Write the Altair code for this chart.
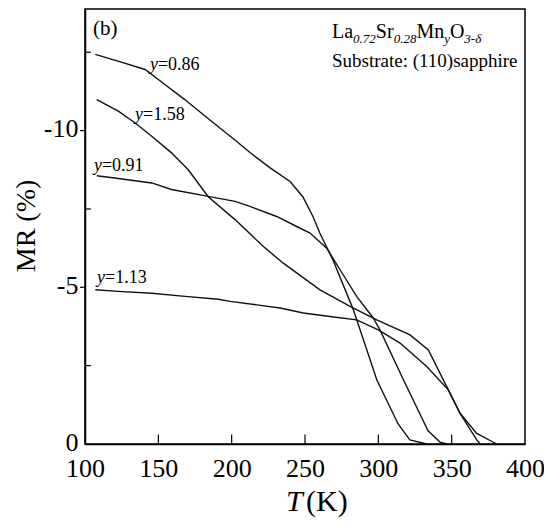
import altair as alt
import pandas as pd

# ---------------- data ----------------
series_names = ["y=0.86", "y=1.58", "y=0.91", "y=1.13"]

T_086 = [107, 123, 141, 150, 168, 182, 202, 212.5, 226, 240, 248.5, 255.5, 260, 265, 269, 283, 299, 305.5, 313.5, 321.5, 333]
MR_086 = [-12.43, -12.21, -11.95, -11.63, -10.99, -10.46, -9.71, -9.30, -8.82, -8.37, -7.89, -7.25, -6.74, -6.26, -5.88, -4.28, -2.04, -1.41, -0.64, -0.13, 0]

T_158 = [108, 122.7, 134, 145.5, 159, 170.4, 184, 202.3, 221.6, 235.2, 260.2, 280.7, 298.9, 321.6, 334.1, 342, 346.6, 355.7, 367.1, 369.5]
MR_158 = [-10.99, -10.62, -10.25, -9.82, -9.29, -8.75, -7.89, -7.16, -6.30, -5.77, -4.92, -4.39, -3.96, -3.48, -3.00, -2.26, -1.83, -0.98, -0.13, 0]

T_091 = [108, 122.7, 145.5, 159, 184, 202.3, 212.5, 230.7, 244.3, 253.4, 264.8, 273.9, 285.2, 296.4, 301.1, 317.5, 333.9, 342, 346.8]
MR_091 = [-8.56, -8.47, -8.33, -8.12, -7.90, -7.74, -7.58, -7.26, -6.94, -6.73, -6.25, -5.56, -4.71, -4.03, -3.64, -2.01, -0.42, -0.06, 0]

T_113 = [107, 122.7, 145.5, 168.2, 190.9, 198.9, 217.1, 233, 248.8, 267, 285.2, 300, 314.8, 333, 347.7, 355.7, 367.1, 380.7]
MR_113 = [-4.92, -4.87, -4.81, -4.71, -4.62, -4.55, -4.44, -4.34, -4.18, -4.07, -3.96, -3.64, -3.22, -2.47, -1.73, -0.98, -0.34, 0]

# curve label anchors (data coordinates)
label_T = [144.3, 134.1, 106.1, 108.2]
label_MR = [-11.94, -10.34, -8.71, -5.14]
label_rest = ["=0.86", "=1.58", "=0.91", "=1.13"]

x_tick_labels = [100, 150, 200, 250, 300, 350, 400]
x_inner_ticks = [150, 200, 250, 300, 350]
y_tick_labels = [-10, -5, 0]
y_major_ticks = [-10, -5]
y_minor_ticks = [-2.5, -7.5, -12.5]

# ---------------- build tables ----------------
rows = []
for name, Ts, MRs in zip(series_names, [T_086, T_158, T_091, T_113], [MR_086, MR_158, MR_091, MR_113]):
    for i, (t, m) in enumerate(zip(Ts, MRs)):
        rows.append({"series": name, "T": t, "MR": m, "i": i})
df = pd.DataFrame(rows)

FONT = "Liberation Serif"
W, H = 440, 435
xscale = alt.Scale(domain=[100, 400], nice=False, zero=False)
yscale = alt.Scale(domain=[0, -13.88], nice=False, zero=False)

x_axis = alt.Axis(values=x_tick_labels, title=None, labelPadding=11, labelFontSize=26,
                  labelFlush=False, labelOverlap=False)
y_axis = alt.Axis(values=y_tick_labels, title=None, labelPadding=7, labelFontSize=26, labelOffset=-2,
                  labelExpr="datum.value < 0 ? '-' + format(-datum.value, 'd') : format(datum.value, 'd')")

lines = alt.Chart(df).mark_line(color="#111111", strokeWidth=1.4).encode(
    x=alt.X("T:Q", scale=xscale, axis=x_axis),
    y=alt.Y("MR:Q", scale=yscale, axis=y_axis),
    detail="series:N",
    order="i:Q",
)

# inward ticks on x axis
xt = pd.DataFrame({"T": x_inner_ticks, "y0": [0.0] * len(x_inner_ticks), "y1": [-0.3] * len(x_inner_ticks)})
xticks = alt.Chart(xt).mark_rule(color="black", strokeWidth=1.2).encode(
    x=alt.X("T:Q", scale=xscale, axis=x_axis),
    y=alt.Y("y0:Q", scale=yscale, axis=y_axis),
    y2="y1:Q",
)

# ticks on y axis
yt_major = pd.DataFrame({"MR": y_major_ticks, "x0": [96.6] * len(y_major_ticks), "x1": [100.0] * len(y_major_ticks)})
yt_minor = pd.DataFrame({"MR": y_minor_ticks, "x0": [100.0] * len(y_minor_ticks), "x1": [104.0] * len(y_minor_ticks)})
yticks_major = alt.Chart(yt_major).mark_rule(color="black", strokeWidth=1.2).encode(
    y=alt.Y("MR:Q", scale=yscale, axis=y_axis),
    x=alt.X("x0:Q", scale=xscale, axis=x_axis),
    x2="x1:Q",
)
yticks_minor = alt.Chart(yt_minor).mark_rule(color="black", strokeWidth=1.2).encode(
    y=alt.Y("MR:Q", scale=yscale, axis=y_axis),
    x=alt.X("x0:Q", scale=xscale, axis=x_axis),
    x2="x1:Q",
)

# curve labels
lab = pd.DataFrame({"T": label_T, "MR": label_MR, "rest": label_rest, "y": ["y"] * 4})
lab_y = alt.Chart(lab).mark_text(font=FONT, fontSize=18, fontStyle="italic", align="left",
                                 baseline="alphabetic", color="black").encode(
    x=alt.X("T:Q", scale=xscale, axis=x_axis),
    y=alt.Y("MR:Q", scale=yscale, axis=y_axis),
    text="y:N",
)
lab_rest = alt.Chart(lab).mark_text(font=FONT, fontSize=18, align="left", dx=8,
                                    baseline="alphabetic", color="black").encode(
    x=alt.X("T:Q", scale=xscale, axis=x_axis),
    y=alt.Y("MR:Q", scale=yscale, axis=y_axis),
    text="rest:N",
)


def txt(text, x, y, size, italic=False, align="left", baseline="alphabetic", angle=0):
    kw = dict(font=FONT, fontSize=size, align=align, baseline=baseline, color="black")
    if italic:
        kw["fontStyle"] = "italic"
    if angle:
        kw["angle"] = angle
    return alt.Chart(pd.DataFrame({"t": [text]})).mark_text(**kw).encode(
        x=alt.value(x), y=alt.value(y), text="t:N")


annos = []
# panel tag
annos.append(txt("(b)", 8, 26, 21))
# formula La0.72Sr0.28MnyO3-δ
main_fs, sub_fs = 20, 13
pieces = [("La", False, 1.055), ("0.72", True, 1.75), ("Sr", False, 0.889), ("0.28", True, 1.75),
          ("Mn", False, 1.389), ("y", True, 0.444), ("O", False, 0.722), ("3-δ", True, 1.333)]
cx = 247.0
for text, sub, em in pieces:
    if sub:
        annos.append(txt(text, cx, 34, sub_fs, italic=True))
        cx += em * sub_fs
    else:
        annos.append(txt(text, cx, 29, main_fs))
        cx += em * main_fs
annos.append(txt("Substrate: (110)sapphire", 247, 58, 19))
# axis titles
annos.append(txt("T", 201, 502, 30, italic=True))
annos.append(txt("(K)", 221, 502, 30))
annos.append(txt("MR (%)", -58, 217, 28, align="center", baseline="middle", angle=270))

chart = alt.layer(lines, xticks, yticks_major, yticks_minor, lab_y, lab_rest, *annos).properties(
    width=W, height=H,
    autosize=alt.AutoSizeParams(type="none"),
    padding={"left": 77, "top": 1, "right": 19, "bottom": 76},
    background="white",
).configure_view(
    stroke="black", strokeWidth=1.5
).configure_axis(
    domainColor="black", domainWidth=1.5, ticks=False, grid=False,
    labelFont=FONT, labelColor="black",
)

chart.save("out.html", embed_options={"renderer": "svg", "actions": False})
